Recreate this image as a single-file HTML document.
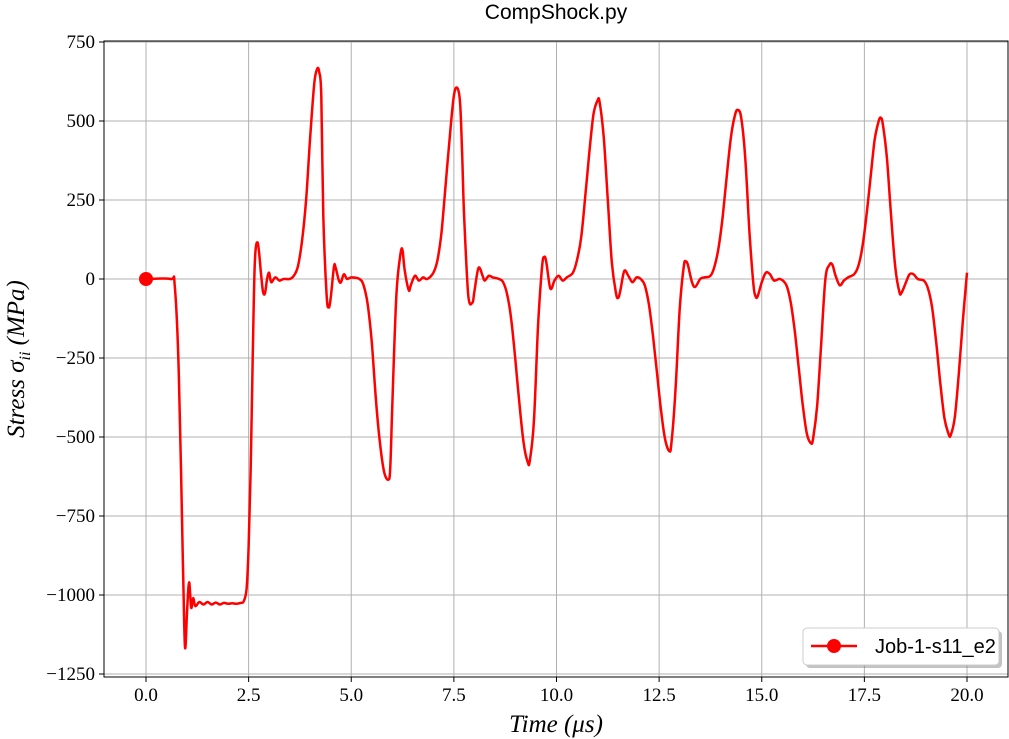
<!DOCTYPE html>
<html><head><meta charset="utf-8"><style>
body{margin:0;background:#fff;}
svg{display:block;}
text{font-family:"Liberation Serif",serif;}
</style></head><body>
<svg width="1009" height="739" viewBox="0 0 1009 739" xmlns="http://www.w3.org/2000/svg">
<g id="grid"></g>
<g id="xticks"></g>
<g id="yticks"></g>
<rect x="104" y="41" width="904" height="636" fill="none" stroke="#000" stroke-width="1"/>
<g id="series"></g>
<text x="556" y="19" text-anchor="middle" font-size="21" style="font-family:'Liberation Sans',sans-serif">CompShock.py</text>
<text x="556" y="732" text-anchor="middle" font-size="25" font-style="italic">Time (μs)</text>
<text transform="translate(24,359) rotate(-90)" text-anchor="middle" font-size="25" font-style="italic">Stress σ<tspan font-size="16" dy="6">ii</tspan><tspan dy="-6"> (MPa)</tspan></text>
<g>
<rect x="806" y="631" width="196" height="37" rx="4" fill="#888" opacity="0.5"/>
<rect x="803" y="628" width="196" height="37" rx="4" fill="#fff" stroke="#ccc"/>
<line x1="811" y1="646" x2="857" y2="646" stroke="#f00" stroke-width="2.5"/>
<circle cx="834" cy="646" r="7" fill="#f00"/>
<text x="875" y="653" font-size="20" style="font-family:'Liberation Sans',sans-serif">Job-1-s11_e2</text>
</g>
</svg>
<script>
const xTicks=[0,2.5,5,7.5,10,12.5,15,17.5,20];
const xTickLabels=["0.0","2.5","5.0","7.5","10.0","12.5","15.0","17.5","20.0"];
const yTicks=[750,500,250,0,-250,-500,-750,-1000,-1250];
const yTickLabels=["750","500","250","0","−250","−500","−750","−1000","−1250"];
const times=[0,0.6,0.7,0.8,0.9,0.95,1.0,1.05,1.1,1.15,1.2,1.3,1.4,1.5,1.6,1.7,1.8,1.9,2.0,2.1,2.2,2.3,2.38,2.45,2.5,2.55,2.6,2.65,2.72,2.8,2.85,2.9,2.95,3.0,3.05,3.15,3.25,3.35,3.5,3.6,3.7,3.8,3.9,4.0,4.1,4.17,4.22,4.27,4.32,4.4,4.45,4.5,4.58,4.62,4.7,4.75,4.82,4.9,5.0,5.2,5.3,5.4,5.5,5.6,5.7,5.8,5.9,5.95,6.0,6.1,6.2,6.25,6.3,6.4,6.45,6.55,6.65,6.75,6.85,7.0,7.1,7.2,7.3,7.4,7.5,7.58,7.65,7.7,7.75,7.85,7.95,8.0,8.1,8.2,8.25,8.35,8.45,8.6,8.7,8.8,8.9,9.0,9.1,9.2,9.3,9.35,9.45,9.55,9.65,9.7,9.75,9.85,9.95,10.05,10.15,10.25,10.4,10.5,10.6,10.7,10.8,10.9,11.0,11.05,11.15,11.25,11.35,11.45,11.5,11.55,11.65,11.75,11.85,11.95,12.05,12.15,12.25,12.35,12.45,12.55,12.65,12.75,12.8,12.9,13.0,13.1,13.15,13.2,13.3,13.38,13.5,13.6,13.75,13.85,13.95,14.05,14.15,14.25,14.35,14.42,14.5,14.6,14.7,14.8,14.85,14.9,15.0,15.1,15.2,15.3,15.45,15.6,15.7,15.8,15.9,16.0,16.1,16.2,16.25,16.35,16.45,16.55,16.65,16.72,16.8,16.9,17.0,17.1,17.25,17.35,17.45,17.55,17.65,17.75,17.85,17.9,17.95,18.05,18.15,18.25,18.35,18.4,18.5,18.6,18.7,18.8,18.95,19.05,19.15,19.25,19.35,19.45,19.55,19.6,19.7,19.8,19.9,20.0];
const stress=[0,0,-20,-300,-900,-1165,-1050,-960,-1040,-1010,-1035,-1022,-1030,-1022,-1030,-1024,-1030,-1025,-1028,-1026,-1028,-1025,-1020,-980,-850,-600,-250,50,115,20,-40,-45,0,20,-10,5,-5,0,0,10,40,120,250,450,620,665,655,580,200,-50,-90,-60,40,35,-5,-10,15,0,5,0,-20,-80,-200,-380,-520,-610,-635,-600,-400,-50,80,90,30,-35,-20,10,-5,5,0,20,60,150,300,450,580,605,560,400,200,-50,-75,-40,35,10,-5,10,5,0,-10,-50,-130,-260,-400,-520,-580,-575,-450,-150,40,70,55,-30,-5,10,-5,5,20,60,130,260,400,520,565,560,450,250,50,-45,-60,-40,25,10,-10,5,0,-20,-80,-180,-300,-420,-510,-545,-520,-350,-100,40,55,45,-10,-25,0,5,10,40,100,200,330,450,520,535,510,380,150,-20,-55,-55,-10,20,15,-5,0,-20,-70,-160,-280,-400,-490,-520,-505,-400,-200,0,45,45,10,-20,-5,5,15,40,100,200,320,440,500,510,490,380,200,40,-40,-45,-15,15,15,0,-5,-30,-90,-200,-330,-440,-490,-495,-440,-300,-130,20];

const NS="http://www.w3.org/2000/svg";
function sx(t){return 146+(t-0)*(967-146)/20;}
function sy(v){return 279-v*(279-121)/500;}
function mk(tag,attrs,parent){const e=document.createElementNS(NS,tag);for(const k in attrs)e.setAttribute(k,attrs[k]);parent.appendChild(e);return e;}
const grid=document.getElementById('grid'),xg=document.getElementById('xticks'),yg=document.getElementById('yticks'),sg=document.getElementById('series');
xTicks.forEach((t,i)=>{
  const l=mk('line',{x1:sx(t),x2:sx(t),y1:41,y2:677,stroke:'#b0b0b0','stroke-width':1},grid);
  
  
  mk('line',{x1:sx(t),x2:sx(t),y1:677,y2:682,stroke:'#000'},xg);
  const tx=mk('text',{x:sx(t),y:701,'text-anchor':'middle','font-size':19},xg);
  tx.textContent=xTickLabels[i];
  
  
});
yTicks.forEach((v,i)=>{
  const l=mk('line',{x1:104,x2:1008,y1:sy(v),y2:sy(v),stroke:'#b0b0b0','stroke-width':1},grid);
  
  
  mk('line',{x1:99,x2:104,y1:sy(v),y2:sy(v),stroke:'#000'},yg);
  const tx=mk('text',{x:95,y:sy(v)+6,'text-anchor':'end','font-size':19},yg);
  tx.textContent=yTickLabels[i];
  
  
});
const P=times.map((t,i)=>[sx(t),sy(stress[i])]);
let d='M'+P[0][0].toFixed(1)+','+P[0][1].toFixed(1);
for(let i=0;i<P.length-1;i++){
  const p0=P[Math.max(0,i-1)],p1=P[i],p2=P[i+1],p3=P[Math.min(P.length-1,i+2)];
  const c1x=p1[0]+(p2[0]-p0[0])/6,c1y=p1[1]+(p2[1]-p0[1])/6;
  const c2x=p2[0]-(p3[0]-p1[0])/6,c2y=p2[1]-(p3[1]-p1[1])/6;
  d+=' C'+c1x.toFixed(1)+','+c1y.toFixed(1)+' '+c2x.toFixed(1)+','+c2y.toFixed(1)+' '+p2[0].toFixed(1)+','+p2[1].toFixed(1);
}
const pl=mk('path',{d:d,fill:'none',stroke:'#f00','stroke-width':2.5,'stroke-linejoin':'round'},sg);


const c=mk('circle',{cx:sx(times[0]),cy:sy(stress[0]),r:7,fill:'#f00'},sg);


</script>
</body></html>
